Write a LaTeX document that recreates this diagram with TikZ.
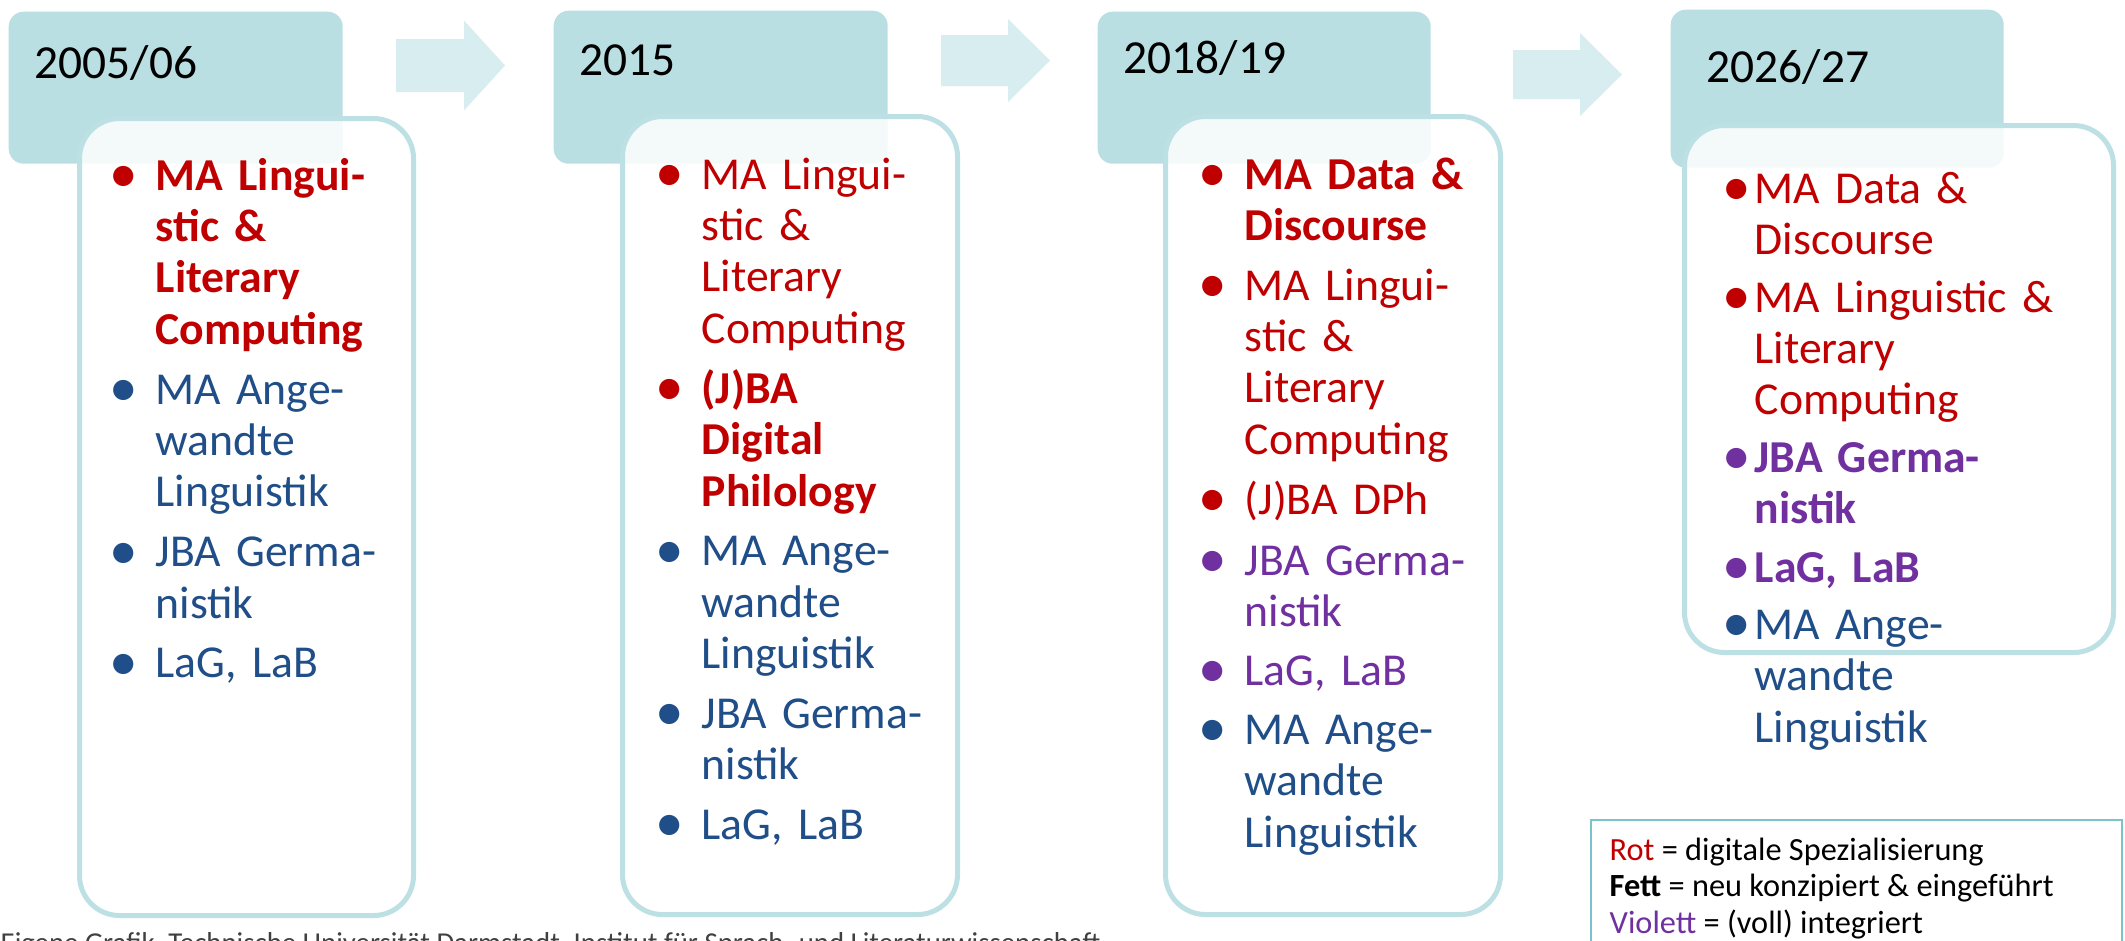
\documentclass[tikz,border=0pt]{standalone}
\usepackage{graphicx}
\usepackage{fontspec}
\setmainfont{Carlito}
\usetikzlibrary{positioning}

\definecolor{kopfblau}{HTML}{B9DFE2}
\definecolor{rahmen}{HTML}{BCE0E4}
\definecolor{pfeil}{HTML}{D8EDEF}
\definecolor{rot}{HTML}{C00000}
\definecolor{blau}{HTML}{1F4E88}
\definecolor{violett}{HTML}{7030A0}
\definecolor{legrahmen}{HTML}{7AC3CB}
\definecolor{fuss}{HTML}{404040}

\newcommand{\punkt}{\makebox[0.3cm][c]{\mdseries\raisebox{-0.06em}{\scalebox{1.25}{\textbullet}}}}
\newcommand{\bp}{\leavevmode\llap{\punkt\hspace{0.17cm}}}
\newcommand{\bq}{\leavevmode\llap{\punkt\hspace{0.03cm}}}

\tikzset{
  kopf/.style={fill=kopfblau, rounded corners=0.15cm, anchor=north west, inner sep=0},
  korpus/.style={draw=rahmen, line width=0.05cm, fill=white, fill opacity=0.85,
    rounded corners=0.4cm, anchor=north west, inner sep=0},
  jahr/.style={font=\fontsize{13.5}{16}\selectfont, anchor=base west, inner sep=0},
  prog/.style={font=\fontsize{13}{14.65}\selectfont, text width=3.2cm, align=left,
    anchor=base west, inner sep=0},
  fett/.style={font=\fontsize{13}{14.65}\selectfont\bfseries},
  legende/.style={font=\fontsize{9.2}{10.3}\selectfont, anchor=base west, inner sep=0},
  fusszeile/.style={font=\fontsize{8.2}{9}\selectfont, text=fuss, anchor=base west, inner sep=0}
}

\begin{document}
\begin{tikzpicture}[y=-1cm]
            \fill[white] (0,0) rectangle (21.25,9.4);
            \useasboundingbox (0,0) rectangle (21.25,9.4);

            \fill[pfeil] (3.96,0.655) ++(0,-0.265) -- ++(0.68,0) -- ++(0,-0.185) -- ++(0.41,0.45)
                -- ++(-0.41,0.45) -- ++(0,-0.185) -- ++(-0.68,0) -- cycle;
            \fill[pfeil] (9.41,0.605) ++(0,-0.255) -- ++(0.67,0) -- ++(0,-0.16) -- ++(0.42,0.415)
                -- ++(-0.42,0.415) -- ++(0,-0.16) -- ++(-0.67,0) -- cycle;
            \fill[pfeil] (15.13,0.745) ++(0,-0.245) -- ++(0.67,0) -- ++(0,-0.17) -- ++(0.42,0.415)
                -- ++(-0.42,0.415) -- ++(0,-0.17) -- ++(-0.67,0) -- cycle;

            \node[kopf, minimum width=3.34cm, minimum height=1.52cm] (k1) at (0.08,0.11) {};
            \node[kopf, minimum width=3.34cm, minimum height=1.53cm] (k2) at (5.53,0.10) {};
            \node[kopf, minimum width=3.33cm, minimum height=1.52cm] (k3) at (10.97,0.11) {};
            \node[kopf, minimum width=3.33cm, minimum height=1.58cm] (k4) at (16.70,0.09) {};

            \node[jahr] (j1) at (0.34,0.78) {2005/06};
            \node[jahr] (j2) at (5.79,0.75) {2015};
            \node[jahr] (j3) at (11.23,0.73) {2018/19};
            \node[jahr] (j4) at (17.06,0.82) {2026/27};

            \node[korpus, minimum width=3.34cm, minimum height=7.97cm] (r1) at (0.77,1.16) {};
            \node[korpus, minimum width=3.35cm, minimum height=7.98cm] (r2) at (6.20,1.14) {};
            \node[korpus, minimum width=3.35cm, minimum height=7.98cm] (r3) at (11.63,1.14) {};
            \node[korpus, minimum width=4.29cm, minimum height=5.27cm] (r4) at (16.82,1.23) {};

            % 2005/06
            \node[prog, fett, text=rot] (a1) at (1.55,1.90) {\bp MA Lingui-\\stic \&\\Literary\\Computing};
            \node[prog, text=blau] (a2) at (1.55,4.04) {\bp MA Ange-\\wandte\\Linguistik};
            \node[prog, text=blau] (a3) at (1.55,5.665) {\bp JBA Germa-\\nistik};
            \node[prog, text=blau] (a4) at (1.55,6.775) {\bp LaG, LaB};

            % 2015
            \node[prog, text=rot] (b1) at (7.01,1.89) {\bp MA Lingui-\\stic \&\\Literary\\Computing};
            \node[prog, fett, text=rot] (b2) at (7.01,4.03) {\bp (J)BA\\Digital\\Philology};
            \node[prog, text=blau] (b3) at (7.01,5.655) {\bp MA Ange-\\wandte\\Linguistik};
            \node[prog, text=blau] (b4) at (7.01,7.28) {\bp JBA Germa-\\nistik};
            \node[prog, text=blau] (b5) at (7.01,8.39) {\bp LaG, LaB};

            % 2018/19
            \node[prog, fett, text=rot] (c1) at (12.44,1.89) {\bp MA Data \&\\Discourse};
            \node[prog, text=rot] (c2) at (12.44,3.00) {\bp MA Lingui-\\stic \&\\Literary\\Computing};
            \node[prog, text=rot] (c3) at (12.44,5.14) {\bp (J)BA DPh};
            \node[prog, text=violett] (c4) at (12.44,5.75) {\bp JBA Germa-\\nistik};
            \node[prog, text=violett] (c5) at (12.44,6.85) {\bp LaG, LaB};
            \node[prog, text=blau] (c6) at (12.44,7.44) {\bp MA Ange-\\wandte\\Linguistik};

            % 2026/27
            \node[prog, text=rot] (d1) at (17.54,2.03) {\bq MA Data \&\\Discourse};
            \node[prog, text=rot] (d2) at (17.54,3.12) {\bq MA Linguistic \&\\Literary\\Computing};
            \node[prog, fett, text=violett] (d3) at (17.54,4.72) {\bq JBA Germa-\\nistik};
            \node[prog, fett, text=violett] (d4) at (17.54,5.82) {\bq LaG, LaB};
            \node[prog, text=blau] (d5) at (17.54,6.39) {\bq MA Ange-\\wandte\\Linguistik};

            \draw[legrahmen, line width=0.02cm] (15.91,8.20) rectangle (21.22,9.70);
            \node[legende] (leg1) at (16.09,8.60) {\textcolor{rot}{Rot} = digitale Spezialisierung};
            \node[legende] (leg2) at (16.09,8.96) {\textbf{Fett} = neu konzipiert \& eingeführt};
            \node[legende] (leg3) at (16.09,9.33) {\textcolor{violett}{Violett} = (voll) integriert};

            \node[fusszeile] (quelle) at (0.0,9.52) {Eigene Grafik, Technische Universität Darmstadt, Institut für Sprach- und Literaturwissenschaft};
        \end{tikzpicture}
\end{document}
